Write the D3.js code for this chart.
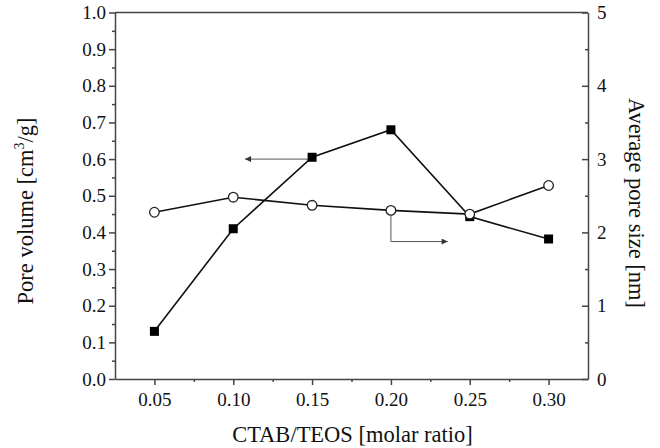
<!DOCTYPE html>
<html>
<head>
<meta charset="utf-8">
<script src="https://cdn.jsdelivr.net/npm/d3@7"></script>
<style>
  body { margin: 0; background: #fff; }
  svg { display: block; }
  .axis path, .axis line { stroke: #444; stroke-width: 1.5; }
</style>
</head>
<body>
<svg id="chart" width="660" height="448"></svg>
<script>
// CTAB/TEOS molar ratio on x
var ratio = [0.05, 0.10, 0.15, 0.20, 0.25, 0.30]
// pore volume, cm3/g (left axis, filled squares)
var poreVolume = [0.13, 0.41, 0.605, 0.68, 0.443, 0.382]
// average pore size, nm (right axis, open circles)
var poreSize = [2.275, 2.48, 2.37, 2.30, 2.25, 2.64]

var xTicks = [0.05, 0.10, 0.15, 0.20, 0.25, 0.30]
var xMinor = [0.075, 0.125, 0.175, 0.225, 0.275]
var leftTicks = [0, 0.1, 0.2, 0.3, 0.4, 0.5, 0.6, 0.7, 0.8, 0.9, 1.0]
var leftMinor = [0.05, 0.15, 0.25, 0.35, 0.45, 0.55, 0.65, 0.75, 0.85, 0.95]
var rightTicks = [0, 1, 2, 3, 4, 5]
var rightMinor = [0.5, 1.5, 2.5, 3.5, 4.5]

// arrow hints: volume arrow points to the left axis, size arrow to the right
var volArrow = {x0: 0.15, x1: 0.1075, y: 0.60}
var sizeArrow = {x0: 0.20, y0: 2.30, y1: 1.875, x1: 0.236}

;(function () {
  var svg = d3.select('#chart')
  var m = {left: 115, right: 588, top: 12.5, bottom: 379}
  var serif = "'Liberation Serif', 'Times New Roman', serif"

  var x = d3.scaleLinear().domain([0.025, 0.325]).range([m.left, m.right])
  var yL = d3.scaleLinear().domain([0, 1]).range([m.bottom, m.top])
  var yR = d3.scaleLinear().domain([0, 5]).range([m.bottom, m.top])

  svg.append('defs').append('marker')
      .attr('id', 'head')
      .attr('viewBox', '0 0 10 10')
      .attr('refX', 10).attr('refY', 5)
      .attr('markerWidth', 9).attr('markerHeight', 6)
      .attr('markerUnits', 'userSpaceOnUse')
      .attr('orient', 'auto')
      .append('path')
      .attr('d', 'M0,0L10,5L0,10Z')
      .attr('fill', '#333')

  function axisG (tx, ty) {
    return svg.append('g').attr('class', 'axis')
        .attr('transform', `translate(${tx},${ty})`)
  }

  /*
      --------------------------------------
      Axes
  */
  svg.append('line')
      .attr('x1', m.left).attr('x2', m.right)
      .attr('y1', m.top).attr('y2', m.top)
      .attr('stroke', '#444').attr('stroke-width', 1.5)

  axisG(0, m.bottom)
      .call(d3.axisBottom(x).tickValues(xTicks).tickSizeInner(6).tickSizeOuter(0)
          .tickPadding(8).tickFormat(d3.format('.2f')))
  axisG(0, m.bottom)
      .call(d3.axisBottom(x).tickValues(xMinor).tickSize(3).tickFormat(''))
      .select('.domain').remove()

  axisG(m.left, 0)
      .call(d3.axisLeft(yL).tickValues(leftTicks).tickSizeInner(6).tickSizeOuter(0)
          .tickPadding(3).tickFormat(d3.format('.1f')))
  axisG(m.left, 0)
      .call(d3.axisLeft(yL).tickValues(leftMinor).tickSize(3).tickFormat(''))
      .select('.domain').remove()

  // right axis ticks point inward
  axisG(m.right, 0)
      .call(d3.axisRight(yR).tickValues(rightTicks).tickSizeInner(-6).tickSizeOuter(0)
          .tickPadding(9).tickFormat(d3.format('d')))
  axisG(m.right, 0)
      .call(d3.axisRight(yR).tickValues(rightMinor).tickSize(-3).tickFormat(''))
      .select('.domain').remove()

  svg.selectAll('.axis')
      .attr('font-family', serif)
      .attr('font-size', 19)
      .selectAll('text')
      .attr('fill', '#111')

  /*
      --------------------------------------
      Axis titles
  */
  function title (sel) {
    return sel.append('text')
        .attr('text-anchor', 'middle')
        .attr('font-family', serif)
        .attr('font-size', 22.5)
        .attr('fill', '#111')
  }

  title(svg)
      .attr('x', (m.left + m.right) / 2 + 1).attr('y', 442)
      .text('CTAB/TEOS [molar ratio]')

  var yt = title(svg)
      .attr('transform', 'translate(33,211) rotate(-90)')
  yt.append('tspan').text('Pore volume [cm')
  yt.append('tspan').attr('dy', -9).attr('font-size', 14).text('3')
  yt.append('tspan').attr('dy', 9).text('/g]')

  title(svg)
      .attr('transform', 'translate(629,203) rotate(90)')
      .text('Average pore size [nm]')

  /*
      --------------------------------------
      Arrows
  */
  svg.append('line')
      .attr('x1', x(volArrow.x0)).attr('y1', yL(volArrow.y))
      .attr('x2', x(volArrow.x1)).attr('y2', yL(volArrow.y))
      .attr('stroke', '#555').attr('stroke-width', 1)
      .attr('marker-end', 'url(#head)')

  svg.append('path')
      .attr('d', d3.line()([
        [x(sizeArrow.x0), yR(sizeArrow.y0)],
        [x(sizeArrow.x0), yR(sizeArrow.y1)],
        [x(sizeArrow.x1), yR(sizeArrow.y1)]
      ]))
      .attr('fill', 'none')
      .attr('stroke', '#555').attr('stroke-width', 1)
      .attr('marker-end', 'url(#head)')

  /*
      --------------------------------------
      Series
  */
  var vol = ratio.map((r, i) => [r, poreVolume[i]])
  var size = ratio.map((r, i) => [r, poreSize[i]])

  svg.append('path')
      .datum(vol)
      .attr('d', d3.line().x(d => x(d[0])).y(d => yL(d[1])))
      .attr('fill', 'none').attr('stroke', '#111').attr('stroke-width', 1.6)

  svg.append('path')
      .datum(size)
      .attr('d', d3.line().x(d => x(d[0])).y(d => yR(d[1])))
      .attr('fill', 'none').attr('stroke', '#111').attr('stroke-width', 1.6)

  var sq = 9
  svg.append('g').selectAll('rect')
      .data(vol)
      .enter().append('rect')
      .attr('x', d => x(d[0]) - sq / 2)
      .attr('y', d => yL(d[1]) - sq / 2)
      .attr('width', sq).attr('height', sq)
      .attr('fill', '#000')

  svg.append('g').selectAll('circle')
      .data(size)
      .enter().append('circle')
      .attr('cx', d => x(d[0]))
      .attr('cy', d => yR(d[1]))
      .attr('r', 4.8)
      .attr('fill', '#fff')
      .attr('stroke', '#222').attr('stroke-width', 1.3)
})()
</script>
</body>
</html>
